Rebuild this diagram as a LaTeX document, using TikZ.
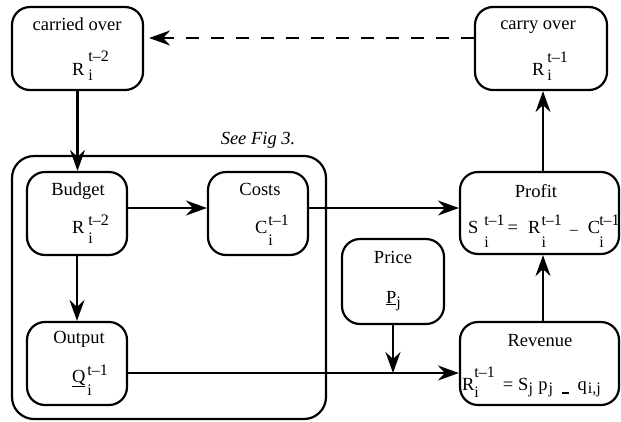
\documentclass[tikz,border=0pt]{standalone}
\usepackage{fontspec}
\setmainfont{Liberation Serif}
\newfontfamily\tnr{Liberation Serif}
\usetikzlibrary{arrows.meta}
\newcommand\sS[1]{{\fontsize{16}{16}\selectfont #1}}
% base, kern, sup, raise, sub, lower
\newcommand\bss[6]{#1\kern#2\rlap{\raisebox{-#6}{\sS{#5}}}\raisebox{#4}{\sS{#3}}}
\begin{document}
\begin{tikzpicture}[x=1pt,y=-1pt,
  font=\tnr\fontsize{18.5}{20}\selectfont,
  box/.style={draw, line width=2.2pt, rounded corners=18pt, inner sep=0pt},
  txt/.style={inner sep=0pt, outer sep=0pt},
  arr/.style={line width=2.2pt, -{Stealth[length=21pt,width=15pt,inset=7pt]}}]
\useasboundingbox (0,0) rectangle (621,421);

% boxes
\node[box, minimum width=131pt, minimum height=83pt] (co) at (77.5,48.5) {};
\node[box, minimum width=132pt, minimum height=83pt] (cy) at (541,48.5) {};
\node[box, minimum width=314pt, minimum height=263pt, rounded corners=22pt] (outer) at (169,287.5) {};
\node[box, minimum width=100pt, minimum height=83pt] (bud) at (77,213.5) {};
\node[box, minimum width=100pt, minimum height=83pt] (cost) at (258,213.5) {};
\node[box, minimum width=100pt, minimum height=83pt] (out) at (77,363.5) {};
\node[box, minimum width=159pt, minimum height=82pt] (prof) at (539.5,213) {};
\node[box, minimum width=102pt, minimum height=85pt] (price) at (393,281.5) {};
\node[box, minimum width=159pt, minimum height=83pt] (rev) at (539.5,363.5) {};

% titles
\node[txt, anchor=base] (coT) at (77,30) {carried over};
\node[txt, anchor=base] (cyT) at (538,29) {carry over};
\node[txt, anchor=base] (budT) at (78,195) {Budget};
\node[txt, anchor=base] (costT) at (260,195) {Costs};
\node[txt, anchor=base] (outT) at (79,343) {Output};
\node[txt, anchor=base] (priceT) at (393,263) {Price};
\node[txt, anchor=base] (profT) at (536,197) {Profit};
\node[txt, anchor=base] (revT) at (540,346) {Revenue};
\node[txt, anchor=base] (see) at (258,144) {\itshape See Fig 3.};

% formulas
\node[txt, anchor=base west] (coF) at (72,75) {\bss{R}{4pt}{t–2}{14pt}{i}{5pt}};
\node[txt, anchor=base west] (cyF) at (532,75) {\bss{R}{3pt}{t–1}{13pt}{i}{5pt}};
\node[txt, anchor=base west] (budF) at (72,233) {\bss{R}{4pt}{t–2}{8pt}{i}{10pt}};
\node[txt, anchor=base west] (costF) at (255,233) {\bss{C}{1pt}{t–1}{8pt}{i}{12pt}};
\node[txt, anchor=base west] (outF) at (72,382) {\bss{\underline{Q}}{2pt}{t–1}{7pt}{i}{13pt}};
\node[txt, anchor=base west] (priceF) at (386,303) {\underline{P}\raisebox{-4pt}{\sS{j}}};
\node[txt, anchor=base west] (profF) at (468,233)
  {\bss{S}{6pt}{t–1}{8pt}{i}{14pt}\kern3pt=\kern10pt\bss{R}{1pt}{t–1}{8pt}{i}{14pt}\kern8pt\raisebox{-1.5pt}{\sS{–}}\kern10pt\bss{C}{-1pt}{t–1}{8pt}{i}{14pt}};
\node[txt, anchor=base west] (revF) at (462,390)
  {\bss{R}{0pt}{t–1}{13pt}{i}{7pt}\kern8pt=\kern5pt S\raisebox{-3pt}{\sS{j}}\kern5.5pt p\kern1pt\raisebox{-3pt}{\sS{j}}\kern8.5pt\raisebox{-3.5pt}{\rule{7pt}{1.3pt}}\kern9pt q\kern1pt\raisebox{-3pt}{\sS{i,j}}};

% connectors
\draw[arr] (co.south) -- (co.south |- bud.north);
\draw[arr, dash pattern=on 13pt off 12pt] ([yshift=10.5pt]cy.west) -- ([yshift=10.5pt,xshift=5pt]co.east);
\draw[arr] ([yshift=5.5pt]bud.east) -- ([yshift=5.5pt]cost.west);
\draw[arr] ([yshift=5.5pt]cost.east) -- ([yshift=5.5pt]cost.east -| prof.west);
\draw[arr] (bud.south) -- (out.north);
\draw[arr] ([yshift=-9.5pt]out.east) -- ([yshift=-9.5pt]out.east -| rev.west);
\coordinate (m) at ([yshift=-9.5pt]out.east -| price.south);
\draw[arr] (price.south) -- (m);
\draw[arr] ([xshift=3.5pt]rev.north) -- ([xshift=3.5pt]prof.south);
\draw[arr] ([xshift=3.5pt]prof.north) -- ([xshift=3.5pt]prof.north |- cy.south);
\end{tikzpicture}
\end{document}
